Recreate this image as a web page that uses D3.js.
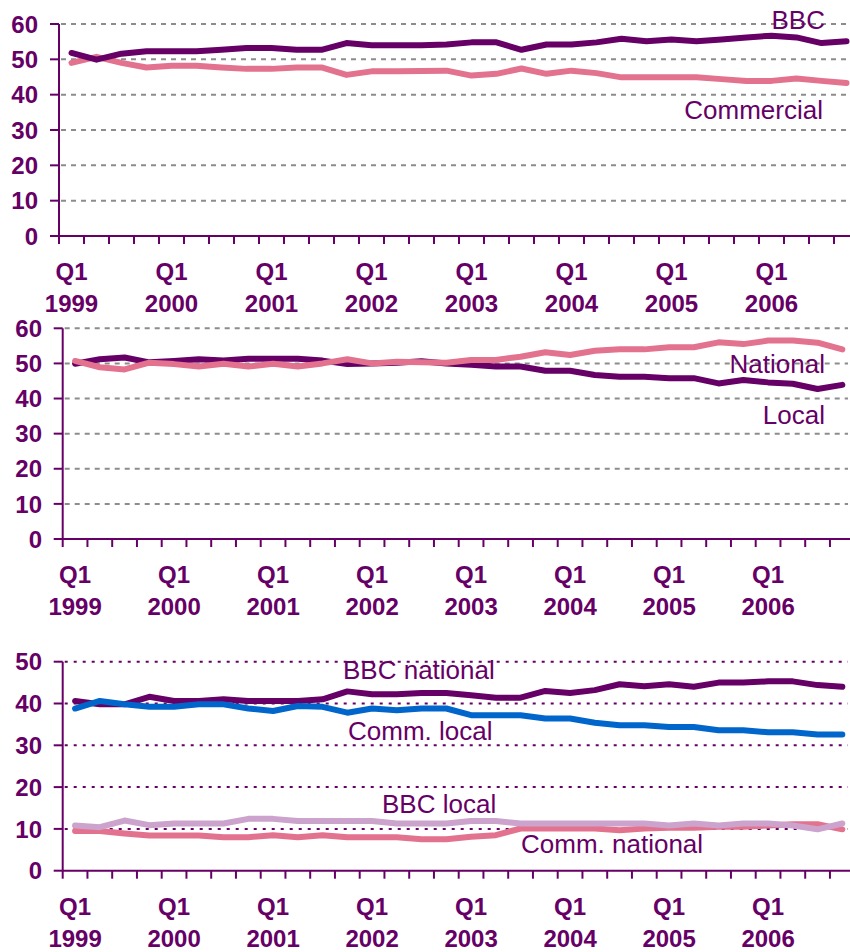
<!DOCTYPE html>
<html><head><meta charset="utf-8">
<script src="https://cdn.jsdelivr.net/npm/d3@7"></script>
<style>body{margin:0;background:#fff}svg{display:block}</style>
</head><body>
<script>
const years = ["1999","2000","2001","2002","2003","2004","2005","2006"];
const quarters = ["Q1","Q2","Q3","Q4"];
const categories = years.flatMap(y => quarters.map(q => q + " " + y));

// Panel 1
const bbc = [51.8,49.9,51.6,52.3,52.3,52.3,52.7,53.2,53.2,52.7,52.7,54.6,54.0,54.0,54.0,54.2,54.8,54.8,52.7,54.2,54.2,54.8,55.8,55.1,55.6,55.1,55.6,56.2,56.7,56.2,54.6,55.1];
const commercial = [49.0,50.7,49.0,47.7,48.2,48.2,47.7,47.3,47.3,47.7,47.7,45.6,46.6,46.6,46.7,46.8,45.4,45.9,47.4,45.9,46.8,46.1,44.9,44.9,44.9,44.9,44.4,43.9,43.9,44.6,43.9,43.3];
// Panel 2
const local = [49.9,51.2,51.7,50.3,50.7,51.2,50.8,51.3,51.3,51.3,50.8,49.8,50.0,50.2,50.6,50.0,49.6,49.1,49.1,47.9,47.9,46.7,46.2,46.2,45.8,45.8,44.3,45.3,44.6,44.2,42.7,43.9];
const national = [50.7,48.9,48.3,50.2,49.8,49.1,49.9,49.1,49.9,49.1,50.0,51.2,50.0,50.5,50.3,50.2,51.0,51.0,51.9,53.2,52.4,53.6,54.0,54.0,54.6,54.6,56.0,55.5,56.5,56.5,55.9,54.0];
// Panel 3
const bbcNational = [40.6,39.8,39.8,41.6,40.6,40.6,41.0,40.6,40.6,40.6,41.0,42.9,42.2,42.2,42.5,42.5,42.0,41.4,41.4,43.0,42.5,43.2,44.6,44.1,44.6,44.0,45.0,45.0,45.3,45.3,44.4,44.0];
const commLocal = [38.8,40.6,39.8,39.2,39.2,39.8,39.8,38.8,38.2,39.4,39.2,37.8,38.8,38.4,38.8,38.8,37.2,37.2,37.2,36.4,36.4,35.4,34.8,34.8,34.4,34.4,33.6,33.6,33.1,33.1,32.6,32.6];
const bbcLocal = [10.8,10.4,12.0,10.9,11.3,11.3,11.3,12.4,12.4,11.9,11.9,11.9,11.9,11.3,11.3,11.3,11.9,11.9,11.3,11.3,11.3,11.3,11.3,11.3,10.8,11.3,10.8,11.3,11.3,10.8,9.9,11.3];
const commNational = [9.5,9.5,8.9,8.4,8.4,8.4,8.0,8.0,8.5,8.0,8.5,8.0,8.0,8.0,7.5,7.5,8.1,8.5,10.1,10.1,10.1,10.1,9.7,10.1,10.3,10.3,10.5,10.5,10.8,11.1,11.1,9.9];

const yTicks1 = [0,10,20,30,40,50,60];
const yTicks3 = [0,10,20,30,40,50];

const DARK = "#660066", PINK = "#E3728F", BLUE = "#0066CC", LILAC = "#CCA3CC";
const FONT = "Arial, 'Liberation Sans', sans-serif";

const svg = d3.select("body").append("svg").attr("width", 850).attr("height", 952);

const panels = [
  {x0:59, step:25, yb:236, yt:24, max:60, ticks:yTicks1, grid:"#8c8c8c", dash:"5,5", labX:38,
   series:[{v:commercial,c:PINK},{v:bbc,c:DARK}],
   labels:[{t:"BBC",x:825,y:29,a:"end"},{t:"Commercial",x:823,y:119,a:"end"}]},
  {x0:62.7, step:24.75, yb:539, yt:328.3, max:60, ticks:yTicks1, grid:"#8c8c8c", dash:"5,5", labX:42,
   series:[{v:local,c:DARK},{v:national,c:PINK}],
   labels:[{t:"National",x:825,y:373,a:"end"},{t:"Local",x:825,y:424,a:"end"}]},
  {x0:62.7, step:24.75, yb:870.7, yt:661.7, max:50, ticks:yTicks3, grid:DARK, dash:"3,6", labX:42,
   series:[{v:bbcNational,c:DARK},{v:commLocal,c:BLUE},{v:commNational,c:PINK},{v:bbcLocal,c:LILAC}],
   labels:[{t:"BBC national",x:343,y:679,a:"start"},{t:"Comm. local",x:348,y:740,a:"start"},
           {t:"BBC local",x:382,y:813,a:"start"},{t:"Comm. national",x:521,y:853,a:"start"}]}
];

panels.forEach(p => {
  const x = d3.scaleBand().domain(categories).range([p.x0, p.x0 + p.step*categories.length]).padding(0);
  const y = d3.scaleLinear().domain([0, p.max]).range([p.yb, p.yt]);
  const g = svg.append("g");
  const cx = c => x(c) + x.bandwidth()/2;

  // gridlines
  g.selectAll(".grid").data(p.ticks.filter(t => t > 0)).join("line")
    .attr("x1", p.x0 + 2).attr("x2", 848)
    .attr("y1", d => y(d)).attr("y2", d => y(d))
    .attr("stroke", p.grid).attr("stroke-width", 2).attr("stroke-dasharray", p.dash);

  // y axis
  g.append("line").attr("x1", p.x0).attr("x2", p.x0).attr("y1", y(0)).attr("y2", y(p.max))
    .attr("stroke", DARK).attr("stroke-width", 2);
  g.selectAll(".yt").data(p.ticks).join("line")
    .attr("x1", p.x0 - 9).attr("x2", p.x0).attr("y1", d => y(d)).attr("y2", d => y(d))
    .attr("stroke", DARK).attr("stroke-width", 2);
  g.selectAll(".yl").data(p.ticks).join("text")
    .attr("x", p.labX).attr("y", d => y(d)).attr("dy", "0.36em")
    .attr("text-anchor", "end").attr("font-family", FONT).attr("font-weight", "bold")
    .attr("font-size", 24).attr("fill", DARK).text(d => d);

  // x axis
  g.append("line").attr("x1", p.x0).attr("x2", 850).attr("y1", y(0)).attr("y2", y(0))
    .attr("stroke", DARK).attr("stroke-width", 2);
  g.selectAll(".xt").data(categories.slice(1)).join("line")
    .attr("x1", d => x(d)).attr("x2", d => x(d)).attr("y1", y(0)).attr("y2", y(0) + 8)
    .attr("stroke", DARK).attr("stroke-width", 2);
  g.append("line").attr("x1", p.x0).attr("x2", p.x0).attr("y1", y(0)).attr("y2", y(0) + 8)
    .attr("stroke", DARK).attr("stroke-width", 2);

  const q1 = categories.filter(c => c.startsWith("Q1"));
  const lab = g.selectAll(".xl").data(q1).join("text")
    .attr("text-anchor", "middle").attr("font-family", FONT).attr("font-weight", "bold")
    .attr("font-size", 24).attr("fill", DARK);
  lab.append("tspan").attr("x", d => cx(d)).attr("y", y(0) + 44).text(d => d.split(" ")[0]);
  lab.append("tspan").attr("x", d => cx(d)).attr("y", y(0) + 76).text(d => d.split(" ")[1]);

  // lines
  const line = d3.line().x((d, i) => cx(categories[i])).y(d => y(d));
  p.series.forEach(s => {
    g.append("path").datum(s.v).attr("d", line).attr("fill", "none")
      .attr("stroke", s.c).attr("stroke-width", 6)
      .attr("stroke-linejoin", "round").attr("stroke-linecap", "round");
  });

  // series labels
  p.labels.forEach(l => {
    g.append("text").attr("x", l.x).attr("y", l.y).attr("text-anchor", l.a)
      .attr("font-family", FONT).attr("font-size", 26).attr("fill", DARK).text(l.t);
  });
});
</script>
</body></html>
